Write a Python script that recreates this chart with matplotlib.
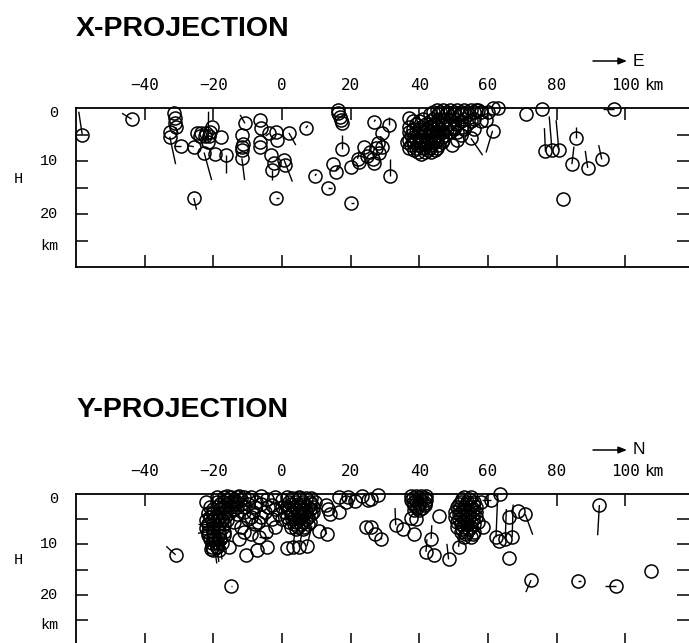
import matplotlib
matplotlib.use("Agg")
import matplotlib.pyplot as plt
from matplotlib.collections import LineCollection
from matplotlib.transforms import blended_transform_factory

# ---------------- data ----------------
x_ticks = [-40, -20, 0, 20, 40, 60, 80, 100]
x_tick_labels = ["\u221240", "\u221220", "0", "20", "40", "60", "80", "100"]
depth_ticks = [5, 10, 15, 20, 25]
depth_label_pos = [1, 10, 20, 26]
depth_labels = ["0", "10", "20", "km"]

# X-projection: isolated events with their line (dx, dz) in km
xp_x = [-58.2, -43.8, -31.5, -31.3, -31.3, -31.0, -32.7, -32.7, -29.5,
        -24.8, -23.5, -22.2, -21.0, -24.0, -22.5, -21.2, -20.4,
        -25.7, -22.7, -21.5, -19.5, -17.7, -16.4,
        -11.7, -11.7, -11.7, -11.5, -11.7, -10.8,
        -6.4, -6.0, -6.4, -6.4, -3.8, -1.8, -1.4, 2.0,
        -3.3, -2.3, -2.8, 0.6, 0.8, 6.9, 9.6, 13.5, 14.7, 15.6, 17.6,
        16.2, 16.4, 16.8, 17.2, 17.5, 20.0, -25.7, -1.8,
        20.0, 22.4, 23.9, 24.8, 25.5, 26.5, 27.3, 28.0, 28.3, 22.0,
        26.8, 31.2, 29.2, 29.2, 26.8, 31.4,
        37.0, 40.4, 49.6, 55.0, 61.3, 59.4, 61.3, 62.8, 56.4,
        71.0, 75.7, 76.7, 78.6, 80.6, 85.6, 84.4, 89.0, 93.1, 81.9, 96.8]
xp_z = [5.0, 2.1, 0.9, 1.9, 2.9, 3.6, 4.5, 5.4, 7.2,
        4.7, 4.7, 4.7, 4.6, 5.3, 5.3, 5.2, 3.5,
        7.3, 8.4, 6.4, 8.7, 5.4, 8.9,
        5.1, 7.3, 7.9, 6.8, 9.5, 2.9,
        2.3, 3.8, 6.4, 7.3, 4.8, 4.5, 6.0, 4.7,
        8.9, 10.4, 11.7, 9.8, 10.7, 3.8, 12.8, 15.0, 10.6, 12.0, 7.8,
        0.4, 1.0, 1.7, 2.3, 2.9, 17.9, 17.0, 17.0,
        11.1, 10.1, 7.3, 9.0, 8.3, 9.6, 7.5, 6.6, 8.5, 9.6,
        2.6, 3.2, 4.8, 7.3, 10.4, 12.8,
        1.9, 8.6, 7.0, 5.7, 4.3, 2.3, 0.0, 0.0, 0.3,
        1.1, 0.2, 8.2, 7.9, 7.9, 5.6, 10.6, 11.3, 9.7, 17.2, 0.1]
xp_dx = [-1.0, -2.8, 0, 0, 0, 0.8, 0, 1.7, -2.0,
         0, 0, 0, 0, 0, 0, 0, 0,
         -1.8, 2.2, 0.1, 0, 0, 0,
         0, 0, 0, 0, 0.8, -1.4,
         0, 0, 0, 0, -1.0, 0, 0, 2.0,
         0, 0, 0, 2.4, 0, 0.6, 0.4, 0.9, 0, 0.8, 0,
         0, 0, 0, 0, 0, 0.9, 0.8, 0.9,
         0, 0, 0, 0, 0, 0, 0, 0, 0, 0.5,
         0.4, 0, 0, -0.5, 0, 0,
         0, 0, 0, 3.4, -1.9, 0, 0, 0, 0,
         0, 0, -0.3, -0.8, -0.8, 0, 0.6, -0.7, -0.9, 0, -3.4]
xp_dz = [-4.3, -1.1, 0, 0, 0, 1.2, 0, 5.2, 0,
         0, 0, 0, 0, 0, 0, 0, 0,
         -0.2, 5.2, -5.7, 0, 0, 3.4,
         0, 0, 0, 0, 4.1, -1.6,
         0, 0, 0, 0, 0.5, 0, 0, 2.3,
         0, 0, 1.9, 4.1, 0, -0.5, -0.4, 0, 0, -1.2, -2.7,
         0, 0, 0, 0, 0, 0, 2.2, 0,
         0, 0, 0, 0, 0, 0, 0, 0, 0, -1.5,
         -0.4, -1.5, 0, -2.0, 0, -3.1,
         0, 0, 0, 3.2, 4.1, 0, 0, 0, 0,
         0, 0, -4.4, -6.3, -5.6, -2.1, -3.3, -3.2, -2.7, 0, 0]

# X-projection: dense swarm near 36-60 km
xc_x = [45, 47, 49, 51, 53, 55, 57,
        43, 45.5, 48, 50, 52, 54.5,
        41, 44, 46, 48, 50, 53, 56,
        39, 42, 44.5, 46.5, 48.5, 51, 54,
        38, 40, 42, 44, 46, 48, 50, 53, 56,
        37.5, 39.5, 41.5, 43.5, 45.5, 47.5, 52,
        37, 39, 41, 43, 45, 47, 51,
        37.5, 39.5, 41.5, 43.5, 45.5,
        38.5, 42.5, 44.5,
        38.5, 40.5, 42.5, 44.5, 46.5, 38, 40, 42, 44,
        44, 46, 48, 50, 52, 54, 56, 58, 60,
        38, 40, 43, 45, 47, 49, 52, 55, 58,
        37, 40.5, 43, 45.5, 47.5, 50, 52.5,
        37, 39, 41, 43, 45, 47, 49, 51,
        36.5, 38.5, 40.5, 42.5, 44.5, 46.5,
        37, 39, 41, 43, 45,
        39.5, 41.5, 43.5]
xc_z = [0.3, 0.3, 0.3, 0.3, 0.3, 0.3, 0.3,
        1.2, 1.2, 1.2, 1.2, 1.2, 1.2,
        2, 2, 2, 2, 2, 2, 2,
        3, 3, 3, 3, 3, 3, 3,
        4, 4, 4, 4, 4, 4, 4, 4, 4,
        5, 5, 5, 5, 5, 5, 5,
        6, 6, 6, 6, 6, 6, 6,
        7, 7, 7, 7, 7,
        8, 8, 8,
        5.5, 5.5, 5.5, 5.5, 5.5, 6.5, 6.5, 6.5, 6.5,
        0.8, 0.8, 0.8, 0.8, 0.8, 0.8, 0.8, 0.8, 0.8,
        2.5, 2.5, 2.5, 2.5, 2.5, 2.5, 2.5, 2.5, 2.5,
        3.5, 3.5, 3.5, 3.5, 3.5, 3.5, 3.5,
        4.5, 4.5, 4.5, 4.5, 4.5, 4.5, 4.5, 4.5,
        6.5, 6.5, 6.5, 6.5, 6.5, 6.5,
        7.5, 7.5, 7.5, 7.5, 7.5,
        8.3, 8.3, 8.3]

# Y-projection: isolated events with their line (dy, dz) in km
yp_y = [-31.0, -15.0, -22.2, -20.8, -15.5, -12.5, -10.6, -7.2, -4.3, -6.7, -4.8,
        -8.0, -10.0, -6.0, -3.0, -12.0, -8.5, -4.0, -2.8,
        -16.0, -12.5, -9.0, -6.0, -2.0, 1.5, 5.0, 8.5, -14.0, -7.5, -4.5, 0.0,
        1.4, 3.2, 5.0, 7.2, 12.8, 13.5, 14.0, 16.6, 10.8, 13.0,
        16.6, 19.3, 21.3, 23.2, 25.0, 25.9, 27.8, 18.5,
        24.5, 25.9, 27.0, 28.8,
        39.0, 37.5, 33.1, 35.1, 38.5, 45.8, 43.4, 41.9, 44.3, 48.5, 51.4,
        60.8, 63.5, 58.0, 62.3, 63.2, 65.0, 67.0, 66.2, 68.6, 70.8, 66.2,
        72.5, 86.1, 97.3, 107.5, 92.4,
        -19.0, -20.0, -18.0, -21.5, -21.5, -21.0]
yp_z = [12.1, 18.2, 1.5, 10.9, 10.5, 8.9, 12.2, 11.2, 10.5, 8.5, 7.5,
        6.0, 5.0, 4.5, 5.0, 6.5, 3.5, 2.5, 2.2,
        0.3, 0.3, 0.5, 0.3, 0.5, 0.6, 0.5, 0.8, 1.3, 1.5, 1.0, 1.2,
        10.7, 10.6, 10.5, 10.4, 2.2, 3.0, 3.9, 3.5, 7.4, 8.0,
        0.6, 0.6, 1.4, 0.3, 1.2, 0.9, 0.2, 1.6,
        6.6, 6.5, 8.0, 9.0,
        4.9, 4.7, 6.2, 6.9, 7.9, 4.4, 8.9, 11.5, 12.2, 13.0, 10.5,
        1.2, 0.0, 1.5, 8.6, 9.4, 9.0, 8.6, 4.5, 3.4, 4.0, 12.7,
        17.1, 17.2, 18.2, 15.2, 2.2,
        10.5, 9.0, 9.0, 6.0, 7.5, 4.5]
yp_dy = [-2.7, 0.5, 0, 0, 0, 0, 0, 0, 0, 3.0, 0,
         0, 0, 0, 0, 0, 0, 0, 0,
         0, 0, 0, 0, 0, 0, 0, 0, 0, 0, 0, 0,
         0, 0.5, 1.0, 1.5, 0, 0, 0, 0, 0, -1.0,
         0, 0, 0, 0, 0, 0, 0, 0.5,
         0, 0, 0, 0.3,
         0, 0, -0.2, 0, 0, 0, 0.2, 0.3, 0, -0.5, 0.4,
         -2.5, 0, 0, 0.5, 0, 0.3, 0.3, 0, 0, 2.2, 0,
         -1.5, 0.9, -3.2, 0, -0.5,
         0.6, 1.0, 0.5, -3.0, -3.0, -2.5]
yp_dz = [-1.7, 0, 0, 0, 0, 0, 0, 0, 0, 0, 0,
         0, 0, 0, 0, 0, 0, 0, 0,
         0, 0, 0, 0, 0, 0, 0, 0, 0, 0, 0, 0,
         0, -3.0, -3.5, -4.0, 0, 0, 0, 0, 0, -1.5,
         0, 0, 0, 0, 0, 0, 0, -1.0,
         0, 0, 0, -0.3,
         0, 0, -3.4, 0, 0, 0, -2.7, -2.5, 0, -3.1, -2.5,
         0, 0, 0, -8.5, 0, -6.0, -6.5, 0, 0, 4.1, 0,
         2.4, 0, 0, 0, 6.0,
         3.0, 4.8, 4.0, 0, 0.3, -0.5]

# Y-projection: dense swarms
yc_y = [-16, -14, -12, -10,
        -18, -16, -14, -12,
        -20, -18, -16, -14,
        -21, -19.5, -18, -16.5,
        -21.5, -20, -18.5, -17,
        -21.5, -20, -18.5, -17,
        -21, -19.5, -18,
        -20.5, -19,
        -19, -17, -15, -13, -11,
        -19, -17, -15, -13,
        -21, -19, -17, -15, -13, -11,
        -21.5, -20, -18.5, -17, -15.5,
        -22, -20.5, -19, -17.5, -16,
        -22, -20.5, -19, -17.5,
        -21.5, -20, -18.5, -17,
        -20.5, -19, -17.5,
        -20, -18.5,
        -10, -8, -6, -2, 0, -11, -9, -7, -5, -1, -13, -14, -11, -9, -2, 0,
        2, 4, 6, 8, 9.5,
        1.5, 3.5, 5.5, 7.5, 9,
        1, 3, 5, 7, 9,
        1.5, 3.5, 5.5, 7.5,
        2, 4, 6, 8,
        2.5, 4.5, 6.5,
        3, 5, 7, 2.5, 4.5, 6.5, 8.5, 2, 4, 6, 8, 2.5, 4.5, 6.5, 8.5,
        3, 5, 7, 3.5, 5.5, 7.5, 4, 6,
        37.5, 39, 40.5, 42, 37.5, 39, 40.5, 42, 38.5, 40, 41.5, 38.5, 40,
        38, 39.8, 41.5, 38, 39.8, 41.5, 39.3, 40.8,
        53, 55, 52, 54, 56, 51, 53, 55, 56.5, 50.5, 52.5, 54.5, 56.5,
        50.5, 52.5, 54.5, 56.5, 51, 53, 55, 57, 51, 53, 55, 58.4,
        52, 54, 56, 53, 55,
        52.5, 54.5, 51.5, 53.5, 55.5, 51.5, 53.5, 55.5, 51.5, 53.5, 55.5,
        51.5, 53.5, 55.5, 52, 54, 56, 52.5, 54.5, 53.5, 55.5]
yc_z = [1, 1, 1, 1,
        2, 2, 2, 2,
        3, 3, 3, 3,
        4.5, 4.5, 4.5, 4.5,
        6, 6, 6, 6,
        7.5, 7.5, 7.5, 7.5,
        9, 9, 9,
        10.5, 10.5,
        0.5, 0.5, 0.5, 0.5, 0.5,
        1.5, 1.5, 1.5, 1.5,
        2.5, 2.5, 2.5, 2.5, 2.5, 2.5,
        3.8, 3.8, 3.8, 3.8, 3.8,
        5.2, 5.2, 5.2, 5.2, 5.2,
        6.8, 6.8, 6.8, 6.8,
        8.2, 8.2, 8.2, 8.2,
        9.8, 9.8, 9.8,
        11.2, 11.2,
        2, 2.5, 2, 3, 2.5, 3.5, 4.5, 5.5, 3.5, 4, 4, 5.5, 7.5, 8, 6.5, 5,
        1.5, 1.5, 1.5, 1.5, 1.5,
        2.5, 2.5, 2.5, 2.5, 2.5,
        3.5, 3.5, 3.5, 3.5, 3.5,
        4.5, 4.5, 4.5, 4.5,
        5.5, 5.5, 5.5, 5.5,
        6.5, 6.5, 6.5,
        0.8, 0.8, 0.8, 2, 2, 2, 2, 3, 3, 3, 3, 4, 4, 4, 4,
        5, 5, 5, 6, 6, 6, 7, 7,
        0.3, 0.3, 0.3, 0.3, 1.2, 1.2, 1.2, 1.2, 2.2, 2.2, 2.2, 3.2, 3.2,
        0.8, 0.8, 0.8, 1.8, 1.8, 1.8, 2.7, 2.7,
        0.5, 0.5, 1.5, 1.5, 1.5, 2.5, 2.5, 2.5, 2.5, 3.5, 3.5, 3.5, 3.5,
        4.5, 4.5, 4.5, 4.5, 5.5, 5.5, 5.5, 5.5, 6.5, 6.5, 6.5, 6.5,
        7.5, 7.5, 7.5, 8.5, 8.5,
        1, 1, 2, 2, 2, 3, 3, 3, 4, 4, 4,
        5, 5, 5, 6, 6, 6, 7, 7, 8, 8]

# ---------------- figure ----------------
W, H = 689, 643
fig = plt.figure(figsize=(W / 100, H / 100), dpi=100)

tick_font = dict(family=["DejaVu Sans Mono"], size=11.5)
lab_font = dict(family=["Liberation Mono", "DejaVu Sans Mono"], size=11)
title_font = dict(family=["Liberation Sans"], weight="bold", size=20.5)


def panel(top_px, bot_px, title, title_base_px, arrow_y_px, letter,
          ex, ez, edx, edz, cx, cz, ypos_label_px):
    left = 76 / W
    ax = fig.add_axes([left, 1 - bot_px / H, 1 - left, (bot_px - top_px) / H])
    ax.set_xlim(-60, 118.5)
    ax.set_ylim(30, 0)
    for s in ["left", "top", "bottom"]:
        ax.spines[s].set_linewidth(1.3)
    ax.spines["right"].set_visible(False)
    ax.set_xticks(x_ticks)
    ax.set_xticklabels(x_tick_labels, **tick_font)
    ax.tick_params(axis="x", direction="in", top=True, bottom=True,
                   labeltop=True, labelbottom=False, length=8.6, width=1.1, pad=11)
    ax.set_yticks(depth_ticks)
    ax.set_yticklabels([])
    ax.tick_params(axis="y", direction="in", left=True, right=True,
                   length=8.6, width=1.1)
    tr = blended_transform_factory(ax.transAxes, ax.transData)
    for p, l in zip(depth_label_pos, depth_labels):
        ax.text(-18 / 613, p, l, transform=tr, ha="right", va="center", **lab_font)
    fig.text(14 / W, 1 - ypos_label_px / H, "H", ha="left", va="center", **lab_font)

    segs = [[(a, b), (a + c, b + d)] for a, b, c, d in zip(ex, ez, edx, edz)
            if (c != 0 or d != 0)]
    ax.add_collection(LineCollection(segs, colors="black", linewidths=1.0,
                                     zorder=3, clip_on=False))
    ax.plot(cx, cz, linestyle="none", marker="o", markersize=9.4,
            markerfacecolor="none", markeredgecolor="black",
            markeredgewidth=1.1, zorder=3, clip_on=False)
    ax.plot(ex, ez, linestyle="none", marker="o", markersize=9.4,
            markerfacecolor="none", markeredgecolor="black",
            markeredgewidth=1.1, zorder=3, clip_on=False)

    fig.text(76 / W, 1 - title_base_px / H, title, ha="left", va="baseline",
             **title_font)
    ax.annotate("", xy=(627 / W, 1 - arrow_y_px / H), xycoords="figure fraction",
                xytext=(593 / W, 1 - arrow_y_px / H), textcoords="figure fraction",
                arrowprops=dict(arrowstyle="-|>,head_length=0.5,head_width=0.2",
                                color="black", lw=1.1, shrinkA=0, shrinkB=0))
    fig.text(633 / W, 1 - arrow_y_px / H, letter, ha="left", va="center",
             family=["Liberation Sans", "DejaVu Sans"], size=12.5)
    fig.text(644 / W, 1 - (top_px - 23) / H, "km", ha="left", va="center", **tick_font)
    return ax


panel(108, 267, "X-PROJECTION", 36, 61, "E",
      xp_x, xp_z, xp_dx, xp_dz, xc_x, xc_z, 179)
panel(494, 645, "Y-PROJECTION", 417, 450, "N",
      yp_y, yp_z, yp_dy, yp_dz, yc_y, yc_z, 560)

fig.savefig("out.png", dpi=100)
